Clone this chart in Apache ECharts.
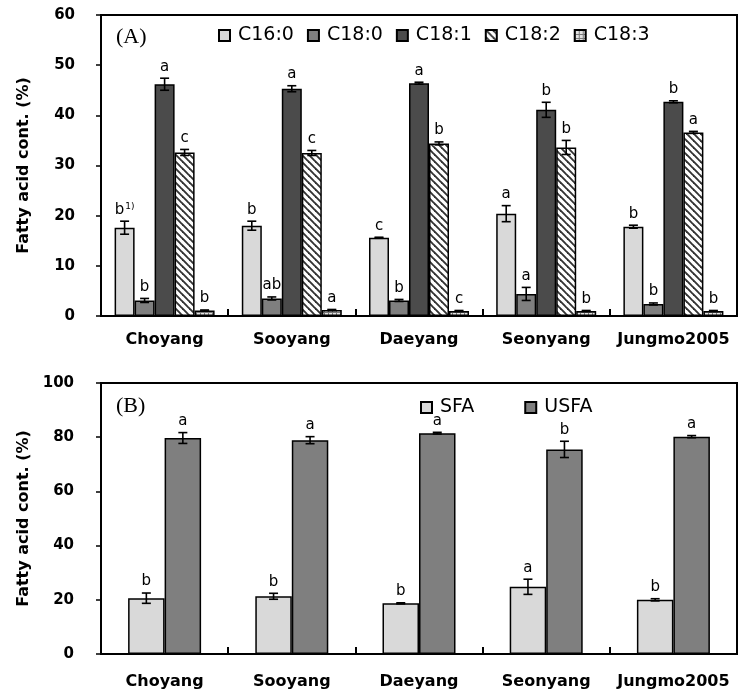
<!DOCTYPE html>
<html>
<head>
<meta charset="utf-8">
<script src="https://cdn.jsdelivr.net/npm/echarts@6.0.0/dist/echarts.min.js"></script>
<style>html,body{margin:0;padding:0;background:#fff}#chart{width:742px;height:695px}</style>
</head>
<body>
<div id="chart"></div>
<script>
// ---------- data ----------
var categories = ['Choyang', 'Sooyang', 'Daeyang', 'Seonyang', 'Jungmo2005'];

var seriesNamesA = ['C16:0', 'C18:0', 'C18:1', 'C18:2', 'C18:3'];
var c160 = [17.6, 18.0, 15.6, 20.4, 17.8];
var c160Err = [1.3, 0.9, 0.1, 1.6, 0.3];
var c160Sig = ['b', 'b', 'c', 'a', 'b'];
var c180 = [3.1, 3.5, 3.1, 4.4, 2.4];
var c180Err = [0.4, 0.3, 0.2, 1.3, 0.2];
var c180Sig = ['b', 'ab', 'b', 'a', 'b'];
var c181 = [46.2, 45.3, 46.4, 41.1, 42.7];
var c181Err = [1.2, 0.6, 0.2, 1.5, 0.2];
var c181Sig = ['a', 'a', 'a', 'b', 'b'];
var c182 = [32.6, 32.5, 34.4, 33.6, 36.6];
var c182Err = [0.6, 0.5, 0.3, 1.4, 0.2];
var c182Sig = ['c', 'c', 'b', 'b', 'a'];
var c183 = [1.1, 1.2, 1.0, 1.0, 1.0];
var c183Err = [0.1, 0.1, 0.1, 0.1, 0.1];
var c183Sig = ['b', 'a', 'c', 'b', 'b'];

var seriesNamesB = ['SFA', 'USFA'];
var sfa = [20.6, 21.3, 18.7, 24.8, 20.0];
var sfaErr = [1.9, 1.1, 0.2, 2.8, 0.4];
var sfaSig = ['b', 'b', 'b', 'a', 'b'];
var usfa = [79.7, 78.9, 81.5, 75.5, 80.2];
var usfaErr = [2.0, 1.3, 0.3, 3.0, 0.4];
var usfaSig = ['a', 'a', 'a', 'b', 'a'];

var yTicksA = [0, 10, 20, 30, 40, 50, 60];
var yTicksB = [0, 20, 40, 60, 80, 100];
var yAxisTitle = 'Fatty acid cont. (%)';
var footnoteMark = '1)';

// ---------- patterns ----------
function hatchPattern() {
  var s = 7, c = document.createElement('canvas');
  c.width = s; c.height = s;
  var g = c.getContext('2d');
  g.fillStyle = '#ffffff'; g.fillRect(0, 0, s, s);
  g.strokeStyle = '#333333'; g.lineWidth = 1.9;
  for (var k = -1; k <= 1; k++) {
    g.beginPath(); g.moveTo(k * s - 1, -1); g.lineTo(k * s + s + 1, s + 1); g.stroke();
  }
  return { image: c, repeat: 'repeat' };
}
function gridPattern() {
  var s = 4, c = document.createElement('canvas');
  c.width = s; c.height = s;
  var g = c.getContext('2d');
  g.fillStyle = '#e2e2e2'; g.fillRect(0, 0, s, s);
  g.fillStyle = '#7a7a7a';
  g.fillRect(0, 0, s, 1); g.fillRect(0, 0, 1, s);
  return { image: c, repeat: 'repeat' };
}

var fillsA = ['#d9d9d9', '#7f7f7f', '#4b4b4b', hatchPattern(), gridPattern()];
var fillsB = ['#d9d9d9', '#7f7f7f'];

var valuesA = [c160, c180, c181, c182, c183];
var errsA = [c160Err, c180Err, c181Err, c182Err, c183Err];
var sigsA = [c160Sig, c180Sig, c181Sig, c182Sig, c183Sig];
var valuesB = [sfa, usfa];
var errsB = [sfaErr, usfaErr];
var sigsB = [sfaSig, usfaSig];

var BW_A = 20, BW_B = 36.5;
var SANS = 'DejaVu Sans';

function barSeries(name, data, fill, gi, bw) {
  return {
    name: name, type: 'bar', xAxisIndex: gi, yAxisIndex: gi,
    data: data, barWidth: bw, barGap: '0%',
    itemStyle: { color: fill, borderColor: '#000', borderWidth: 1.5 },
    emphasis: { disabled: true }, silent: true
  };
}

function errSeries(gi, values, errs, sigs, idx, n, bw, supIndex) {
  return {
    type: 'custom', xAxisIndex: gi, yAxisIndex: gi, z: 10, silent: true,
    data: values.map(function (v, i) { return [i, v, errs[i]]; }),
    renderItem: function (params, api) {
      var ci = api.value(0), v = api.value(1), e = api.value(2);
      var x = api.coord([ci, v])[0] + (idx - (n - 1) / 2) * bw;
      var yT = api.coord([ci, v + e])[1];
      var yB = api.coord([ci, v - e])[1];
      var cap = 4.5;
      var ls = { stroke: '#000', lineWidth: 1.6 };
      var letter = sigs[params.dataIndex];
      var txt;
      if (supIndex === params.dataIndex) {
        txt = { type: 'text', style: { text: '{n|' + letter + '}{s|' + footnoteMark + '}', x: x, y: yT - 4,
          align: 'center', verticalAlign: 'bottom',
          rich: { n: { fontSize: 15, fontFamily: SANS, fill: '#000' },
                  s: { fontSize: 9, fontFamily: SANS, fill: '#000', verticalAlign: 'top', padding: [0, 0, 0, 1] } } } };
      } else {
        txt = { type: 'text', style: { text: letter, x: x, y: yT - 4, align: 'center', verticalAlign: 'bottom',
          font: '15px ' + SANS, fill: '#000' } };
      }
      return {
        type: 'group', children: [
          { type: 'line', shape: { x1: x, y1: yT, x2: x, y2: yB }, style: ls },
          { type: 'line', shape: { x1: x - cap, y1: yT, x2: x + cap, y2: yT }, style: ls },
          { type: 'line', shape: { x1: x - cap, y1: yB, x2: x + cap, y2: yB }, style: ls },
          txt
        ]
      };
    }
  };
}

var series = [];
seriesNamesA.forEach(function (nm, i) { series.push(barSeries(nm, valuesA[i], fillsA[i], 0, BW_A)); });
seriesNamesB.forEach(function (nm, i) { series.push(barSeries(nm, valuesB[i], fillsB[i], 1, BW_B)); });
seriesNamesA.forEach(function (nm, i) { series.push(errSeries(0, valuesA[i], errsA[i], sigsA[i], i, 5, BW_A, i === 0 ? 0 : -1)); });
seriesNamesB.forEach(function (nm, i) { series.push(errSeries(1, valuesB[i], errsB[i], sigsB[i], i, 2, BW_B, -1)); });

function xAxisCfg(gi, margin) {
  return {
    type: 'category', gridIndex: gi, data: categories, boundaryGap: true,
    axisLine: { show: true, lineStyle: { color: '#000', width: 2 } },
    axisTick: { show: true, inside: true, interval: 0, length: 7, lineStyle: { color: '#000', width: 2 } },
    axisLabel: { interval: 0, margin: margin, color: '#000', fontFamily: SANS, fontWeight: 'bold', fontSize: 16 },
    splitLine: { show: false }
  };
}
function yAxisCfg(gi, ticks, margin) {
  return {
    type: 'value', gridIndex: gi, min: ticks[0], max: ticks[ticks.length - 1],
    interval: ticks[1] - ticks[0],
    name: yAxisTitle, nameLocation: 'middle', nameGap: 69, nameRotate: 90,
    nameTextStyle: { color: '#000', fontFamily: SANS, fontWeight: 'bold', fontSize: 16 },
    axisLine: { show: true, lineStyle: { color: '#000', width: 2 } },
    axisTick: { show: true, inside: false, length: 5, lineStyle: { color: '#000', width: 1.5 } },
    axisLabel: { margin: margin, color: '#000', fontFamily: SANS, fontWeight: 'bold', fontSize: 15 },
    splitLine: { show: false }
  };
}

var chart = echarts.init(document.getElementById('chart'), null, { renderer: 'canvas' });
chart.setOption({
  backgroundColor: '#fff',
  animation: false,
  grid: [
    { left: 101, right: 5, top: 15, height: 301, show: true, borderColor: '#000', borderWidth: 2, backgroundColor: 'transparent', outerBoundsMode: 'none', containLabel: false },
    { left: 101, right: 5, top: 383, height: 271, show: true, borderColor: '#000', borderWidth: 2, backgroundColor: 'transparent', outerBoundsMode: 'none', containLabel: false }
  ],
  legend: [
    { data: seriesNamesA, left: 213, top: 21, itemWidth: 11, itemHeight: 11, itemGap: 13, icon: 'rect',
      selectedMode: false, textStyle: { color: '#000', fontFamily: SANS, fontSize: 19, padding: [0, 0, 0, 3] } },
    { data: seriesNamesB, left: 415, top: 393, itemWidth: 11, itemHeight: 11, itemGap: 50, icon: 'rect',
      selectedMode: false, textStyle: { color: '#000', fontFamily: SANS, fontSize: 19, padding: [0, 0, 0, 3] } }
  ],
  xAxis: [xAxisCfg(0, 16), xAxisCfg(1, 20)],
  yAxis: [yAxisCfg(0, yTicksA, 26), yAxisCfg(1, yTicksB, 27)],
  graphic: [
    { type: 'text', left: 116, top: 26, style: { text: '(A)', font: '22px "Liberation Serif"', fill: '#000' } },
    { type: 'text', left: 116, top: 395, style: { text: '(B)', font: '22px "Liberation Serif"', fill: '#000' } }
  ],
  series: series
});
</script>
</body>
</html>
